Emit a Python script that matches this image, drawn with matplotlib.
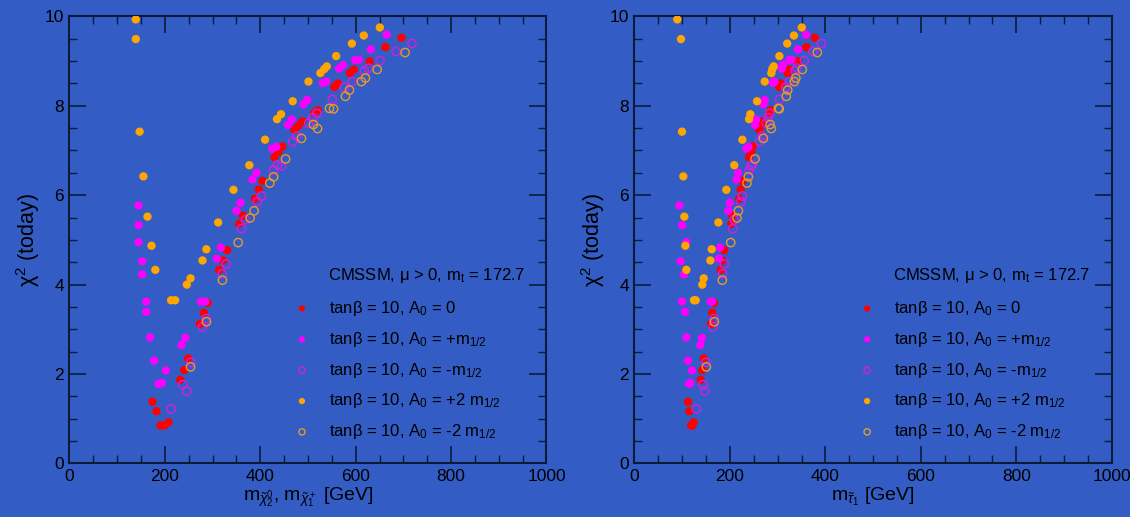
import matplotlib
matplotlib.use("Agg")
import matplotlib.pyplot as plt
from matplotlib.ticker import MultipleLocator

plt.rcParams['font.family'] = ['Liberation Sans', 'DejaVu Sans']
plt.rcParams['mathtext.fontset'] = 'custom'
plt.rcParams['mathtext.rm'] = 'Liberation Sans'
plt.rcParams['mathtext.it'] = 'Liberation Sans:italic'
plt.rcParams['mathtext.bf'] = 'Liberation Sans:bold'

# ---------------- data: chi^2 (shared by both panels) ----------------
# A0 = 0 (red filled)
chi2_a0 = [1.38, 1.17, 0.85, 0.85, 0.92, 1.87, 2.09, 2.35, 3.12, 3.37, 3.59, 4.33, 4.54, 4.77,
           5.36, 5.54, 5.92, 6.13, 6.32, 6.85, 6.97, 7.09, 7.46, 7.55, 7.65, 7.84, 7.90,
           8.42, 8.50, 8.73, 8.81, 8.99, 9.31, 9.52]
mchi_a0 = [174, 182.4, 190.7, 199, 207.5, 232, 240.5, 248.8, 273.3, 281.7, 290, 313.8, 322, 330.5,
           355.7, 363.4, 388.6, 397, 404.6, 429.7, 438, 446.5, 471.6, 480, 488.4, 513, 520.6,
           555, 562.5, 587.7, 596, 629, 662.5, 696]
mstau_a0 = [112, 114.9, 118.4, 121, 124, 138.7, 142, 145, 160.3, 163, 166.6, 180.6, 184, 187.6,
            203, 205, 219, 222.5, 226.7, 240, 244, 248, 261.6, 264.5, 268.6, 281.8, 285.4,
            302.8, 306.4, 321, 324.4, 342.6, 360, 377.6]

# A0 = +m1/2 (magenta filled)
chi2_p1 = [5.77, 5.33, 4.95, 4.52, 4.23, 3.62, 3.39, 2.82, 2.30, 1.78, 1.80, 2.08,
           2.65, 2.81, 3.62, 3.62, 4.58, 4.83,
           5.65, 5.83, 6.35, 6.50, 7.04, 7.08, 7.57, 7.69, 8.03, 8.13, 8.51, 8.54,
           8.83, 8.91, 9.02, 9.03, 9.26, 9.59]
mchi_p1 = [144.7, 144.7, 144.7, 152.4, 152.4, 160.8, 160.8, 169, 177.5, 186.6, 193.7, 202,
           234.8, 243, 275.4, 284.5, 309, 317.3,
           350, 358.5, 383.6, 392, 425, 433.5, 458, 466, 490.5, 498.5, 531, 538,
           565, 573.7, 599, 606.5, 631.7, 665]
mstau_p1 = [94, 100, 108.6, 96.8, 103.7, 99.5, 105.8, 108.6, 112, 114.2, 117, 120.5,
            138, 141.5, 159.7, 162.4, 177, 179,
            196.6, 199.5, 214, 217, 234.3, 238.5, 252.5, 255, 270, 272.8, 290, 293,
            308.5, 310.5, 324.4, 328.6, 342.6, 359.4]

# A0 = -m1/2 (magenta open)
chi2_m1 = [1.22, 1.76, 1.62, 2.26, 3.05, 3.24, 4.24, 4.46, 5.25, 5.45, 5.85, 5.98,
           6.56, 6.68, 6.65, 7.20, 7.32, 7.61, 7.73, 7.83, 8.14, 8.41, 8.54, 8.78, 8.84,
           9.01, 9.21, 9.39]
mchi_m1 = [213, 237.6, 246, 254.4, 278.8, 287, 320, 328.5, 360.5, 369, 394, 402.5,
           427.6, 436, 444.5, 468, 476.6, 501.7, 510, 518.5, 551, 576.4, 593, 618.3, 626.7,
           651, 684.8, 718]
mstau_m1 = [129.5, 143.5, 147, 149.8, 164.5, 167.2, 184.8, 188.2, 205.7, 209, 223, 226,
            240.6, 246.9, 244, 262.4, 267.9, 276, 280, 283, 303.4, 316.8, 324.4, 336.3, 340,
            355.9, 374, 391.5]

# A0 = +2 m1/2 (orange filled)
chi2_p2 = [9.93, 9.49, 7.42, 6.42, 5.52, 4.87, 4.33, 3.65, 3.65, 4.00, 4.14, 4.54, 4.79,
           5.39, 6.12, 6.67, 7.24, 7.70, 7.81, 8.10, 8.54, 8.73, 8.82, 8.88, 9.11, 9.39,
           9.57, 9.75]
mchi_p2 = [139, 139, 147, 155, 163.5, 172, 180, 213, 221.5, 246, 253.7, 278.8, 287,
           311.7, 343.8, 377, 410, 435, 443.5, 468, 501, 526, 534, 539.5, 559, 592,
           617, 650.6]
mstau_p2 = [89.7, 97.4, 99.5, 102.3, 104.4, 106.5, 108.6, 124.7, 128.2, 142, 145, 158.9, 161.8,
            175.7, 192.4, 209, 226, 240, 242.7, 256.7, 272.8, 286.7, 288.8, 291.7, 303.5, 320,
            334, 350.4]

# A0 = -2 m1/2 (orange open)
chi2_m2 = [2.16, 3.17, 4.10, 4.94, 5.49, 5.65, 6.27, 6.41, 6.81, 7.27, 7.58, 7.49,
           7.94, 7.93, 8.21, 8.35, 8.54, 8.62, 8.81, 9.19]
mchi_m2 = [253.7, 287, 320.7, 353.6, 378.7, 387, 420, 428, 453, 486.3, 511.4, 520,
           545, 553.6, 578.5, 587, 612, 620.4, 645, 703.6]
mstau_m2 = [150.5, 167.2, 184, 201.6, 214.8, 217.6, 235.7, 238.5, 252.5, 270, 284, 286.7,
            301.4, 303.4, 318, 321, 335, 338, 351.6, 383]

labels = ["tanβ = 10, A$_0$ = 0",
          "tanβ = 10, A$_0$ = +m$_{1/2}$",
          "tanβ = 10, A$_0$ = -m$_{1/2}$",
          "tanβ = 10, A$_0$ = +2 m$_{1/2}$",
          "tanβ = 10, A$_0$ = -2 m$_{1/2}$"]
title_txt = r"CMSSM, μ > 0, m$_\mathrm{t}$ = 172.7"
xlabels = [r"m$_{\tilde{\chi}_2^0}$, m$_{\tilde{\chi}_1^+}$ [GeV]",
           r"m$_{\tilde{\tau}_1}$ [GeV]"]
ylabel = r"χ$^2$ (today)"

BG = "#335DC4"
RED = "#FF0000"
MAG = "#FF00FF"
MAG_O = "#D020E0"
ORG = "#FFA500"
ORG_O = "#E59A28"
INK = "#0B1B3A"

fig = plt.figure(figsize=(11.3, 5.17), dpi=100, facecolor=BG)
axes = [fig.add_axes([0.0615, 0.1035, 0.4221, 0.8650]),
        fig.add_axes([0.5615, 0.1035, 0.4224, 0.8650])]

xsets = [(mchi_a0, mchi_p1, mchi_m1, mchi_p2, mchi_m2),
         (mstau_a0, mstau_p1, mstau_m1, mstau_p2, mstau_m2)]
ysets = (chi2_a0, chi2_p1, chi2_m1, chi2_p2, chi2_m2)

S = 36
for ax, xs, xl in zip(axes, xsets, xlabels):
    ax.set_facecolor(BG)
    h0 = ax.scatter(xs[0], ysets[0], s=S, color=RED, edgecolors='none', zorder=3)
    h1 = ax.scatter(xs[1], ysets[1], s=S, color=MAG, edgecolors='none', zorder=3)
    h2 = ax.scatter(xs[2], ysets[2], s=S, facecolors='none', edgecolors=MAG_O, linewidths=1.0, zorder=3)
    h3 = ax.scatter(xs[3], ysets[3], s=S, color=ORG, edgecolors='none', zorder=3)
    h4 = ax.scatter(xs[4], ysets[4], s=S, facecolors='none', edgecolors=ORG_O, linewidths=1.0, zorder=3)
    ax.set_xlim(0, 1000)
    ax.set_ylim(0, 10)
    ax.xaxis.set_major_locator(MultipleLocator(200))
    ax.xaxis.set_minor_locator(MultipleLocator(50))
    ax.yaxis.set_major_locator(MultipleLocator(2))
    ax.yaxis.set_minor_locator(MultipleLocator(0.5))
    ax.tick_params(which='both', direction='in', top=True, right=True, colors=INK,
                   labelcolor='black', labelsize=12.5)
    ax.tick_params(which='major', length=12, width=1.2, pad=4)
    ax.tick_params(which='minor', length=6, width=1.0)
    for sp in ax.spines.values():
        sp.set_color(INK)
        sp.set_linewidth(1.5)
    ax.set_xlabel(xl, fontsize=14, labelpad=1)
    ax.set_ylabel(ylabel, fontsize=15.5, labelpad=2)
    leg = ax.legend([h0, h1, h2, h3, h4], labels, loc='upper left',
                    bbox_to_anchor=(0.4734, 0.368), frameon=False, fontsize=12,
                    markerscale=0.75, handlelength=0.8, handletextpad=1.22,
                    labelspacing=0.71, borderpad=0, borderaxespad=0)
    ax.text(0.541, 0.421, title_txt, transform=ax.transAxes, fontsize=12,
            ha='left', va='center')

fig.savefig("out.png", dpi=100, facecolor=BG)
